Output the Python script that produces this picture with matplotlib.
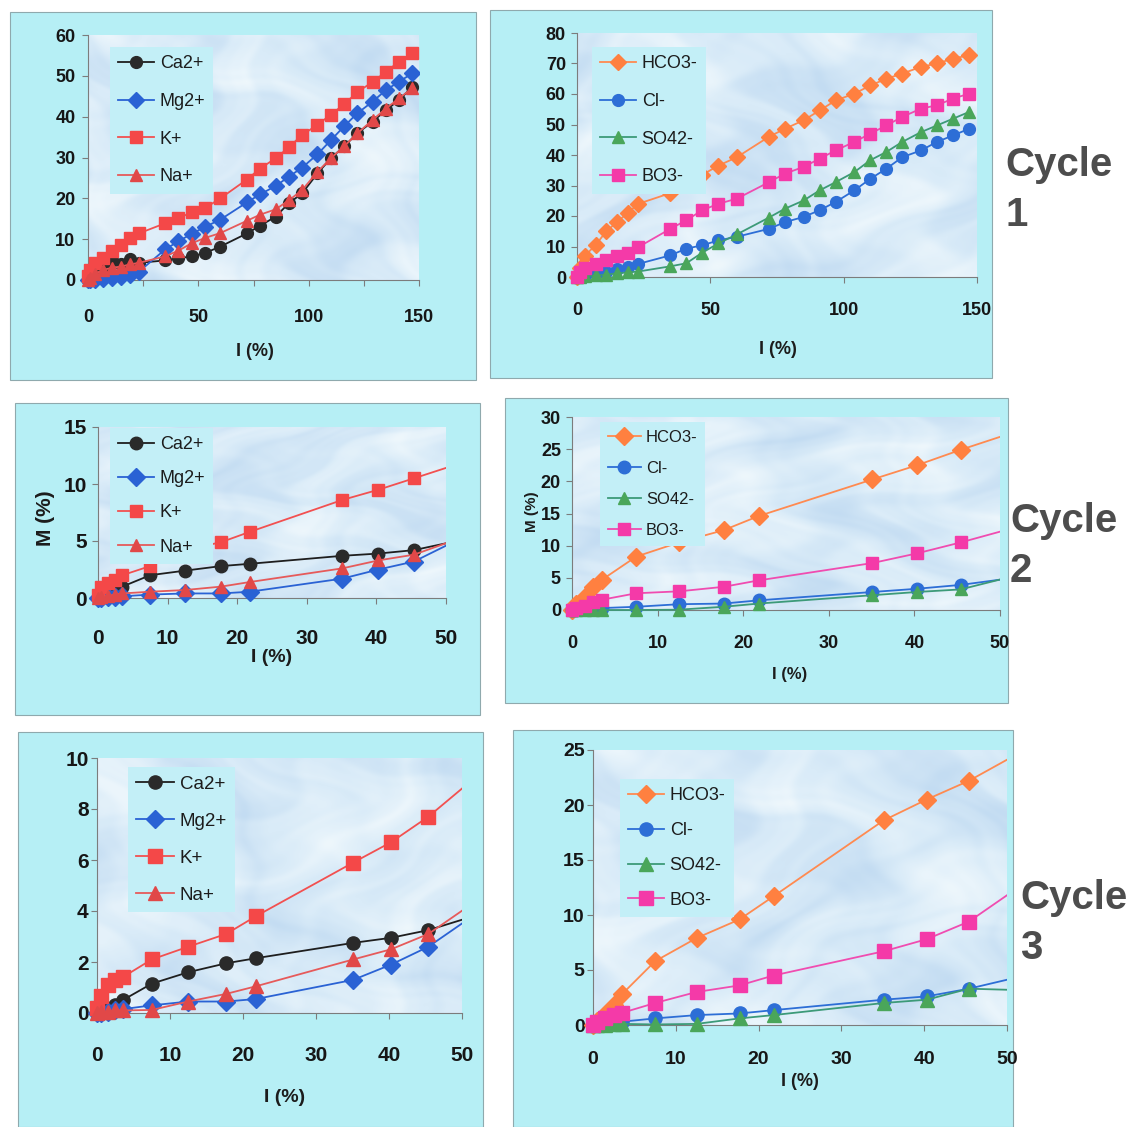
import matplotlib
matplotlib.use('Agg')
import matplotlib.pyplot as plt
import numpy as np
from matplotlib.patches import Rectangle
from matplotlib.colors import LinearSegmentedColormap
from matplotlib.ticker import MultipleLocator

plt.rcParams['font.family'] = ['Liberation Sans', 'DejaVu Sans']

W, H = 1135, 1127

# ---- cycle 1: I (%) sampling and released fraction M (%) ----
x_c1 = [0, 1, 3, 7, 11, 15, 19, 23, 35, 41, 47, 53, 60, 72, 78, 85, 91, 97,
        104, 110, 116, 122, 129, 135, 141, 147]
ca_c1 = [0, 1.0, 2.5, 3.3, 5.0, 3.8, 5.2, 4.2, 4.8, 5.3, 5.8, 6.6, 8.2, 11.4,
         13.3, 15.5, 18.8, 21.2, 26.1, 29.8, 32.7, 35.9, 38.8, 41.6, 44.1, 47.3]
mg_c1 = [0, 0, 0.1, 0.3, 0.5, 0.8, 1.2, 2.0, 7.5, 9.5, 11.3, 13.0, 14.8, 19.0,
         21.0, 23.0, 25.3, 27.5, 30.8, 34.2, 37.6, 40.8, 43.7, 46.5, 48.6, 50.6]
k_c1 = [1.0, 2.5, 4.2, 5.5, 7.2, 8.6, 10.2, 11.4, 13.9, 15.1, 16.6, 17.6, 20.0,
        24.6, 27.3, 29.8, 32.5, 35.5, 38.0, 40.5, 43.0, 46.0, 48.5, 51.0, 53.5, 55.5]
na_c1 = [0, 0.5, 1.5, 2.5, 3.0, 3.3, 3.8, 4.2, 5.8, 7.2, 9.0, 10.3, 11.5, 14.5,
         16.0, 17.3, 19.5, 22.0, 26.5, 29.8, 32.7, 35.9, 39.2, 42.0, 44.5, 47.0]
hco3_c1 = [0, 3.0, 7.0, 10.5, 15.0, 18.0, 21.0, 24.0, 27.5, 30.5, 33.5, 36.5, 39.3,
           46.0, 48.6, 51.4, 54.6, 57.9, 60.1, 62.8, 65.0, 66.7, 68.9, 70.0, 71.6, 72.7]
cl_c1 = [0, 0.3, 0.8, 1.3, 1.8, 2.5, 3.2, 4.3, 7.1, 9.3, 10.4, 12.0, 13.2, 15.8,
         18.0, 19.7, 21.9, 24.6, 28.4, 32.2, 35.5, 39.3, 41.5, 44.3, 46.4, 48.6]
so4_c1 = [0, 0, 0.2, 0.5, 0.8, 1.2, 1.5, 1.8, 3.5, 4.5, 8.0, 11.0, 14.0, 19.5,
          22.4, 25.1, 28.4, 31.1, 34.4, 38.3, 41.0, 44.3, 47.5, 49.7, 51.9, 54.1]
bo3_c1 = [0, 1.5, 3.0, 4.2, 5.5, 6.8, 8.0, 9.8, 15.8, 18.6, 21.9, 24.0, 25.7,
          31.1, 33.9, 36.1, 38.8, 41.5, 44.3, 47.0, 49.7, 52.5, 55.2, 56.3, 58.5, 60.1]

# ---- cycles 2 and 3 share the same sampling ----
x_c23 = [0, 0.5, 1.5, 2.5, 3.5, 7.5, 12.5, 17.7, 21.8, 35.1, 40.3, 45.4, 55]

ca_c2 = [0, 0.2, 0.4, 0.7, 1.0, 2.0, 2.4, 2.8, 3.0, 3.7, 3.9, 4.2, 5.45]
mg_c2 = [0, 0, 0.05, 0.1, 0.15, 0.3, 0.4, 0.4, 0.55, 1.7, 2.5, 3.2, 6.1]
k_c2 = [0.3, 1.0, 1.3, 1.6, 2.0, 2.8, 4.2, 4.9, 5.8, 8.6, 9.5, 10.5, 12.4]
na_c2 = [0, 0.1, 0.2, 0.3, 0.4, 0.55, 0.7, 1.0, 1.4, 2.6, 3.3, 3.8, 5.9]
hco3_c2 = [0, 1.0, 2.0, 3.6, 4.7, 8.3, 10.5, 12.4, 14.6, 20.3, 22.5, 24.9, 29.1]
cl_c2 = [0, 0.05, 0.1, 0.2, 0.3, 0.5, 0.9, 1.0, 1.5, 2.8, 3.3, 3.9, 5.6]
so4_c2 = [0, 0, 0, 0, 0, 0, 0.05, 0.5, 1.0, 2.3, 2.8, 3.2, 6.4]
bo3_c2 = [0, 0.3, 0.6, 1.2, 1.6, 2.6, 2.9, 3.6, 4.6, 7.3, 8.8, 10.5, 14.0]

ca_c3 = [0, 0.05, 0.15, 0.3, 0.5, 1.15, 1.6, 1.95, 2.15, 2.75, 2.95, 3.25, 4.1]
mg_c3 = [0, 0, 0.05, 0.1, 0.15, 0.3, 0.45, 0.45, 0.55, 1.3, 1.9, 2.6, 4.5]
k_c3 = [0.2, 0.65, 1.1, 1.3, 1.4, 2.1, 2.6, 3.1, 3.8, 5.9, 6.7, 7.7, 10.0]
na_c3 = [0, 0.02, 0.05, 0.1, 0.1, 0.12, 0.45, 0.75, 1.05, 2.1, 2.5, 3.1, 5.0]
hco3_c3 = [0, 0.4, 1.0, 1.8, 2.8, 5.8, 7.9, 9.6, 11.7, 18.6, 20.5, 22.2, 26.2]
cl_c3 = [0, 0.05, 0.1, 0.2, 0.3, 0.6, 0.9, 1.05, 1.35, 2.3, 2.6, 3.3, 5.0]
so4_c3 = [0, 0, 0, 0.05, 0.1, 0.05, 0.1, 0.6, 0.9, 2.0, 2.3, 3.3, 3.1]
bo3_c3 = [0, 0.3, 0.6, 0.9, 1.1, 2.0, 3.0, 3.6, 4.5, 6.7, 7.8, 9.4, 14.4]

cation_names = ['Ca2+', 'Mg2+', 'K+', 'Na+']
anion_names = ['HCO3-', 'Cl-', 'SO42-', 'BO3-']

# marker, marker colour, line colour
cation_style = [('o', '#2a2a2a', '#1e1e1e'), ('D', '#2a62d4', '#2a62d4'),
                ('s', '#f44848', '#f25050'), ('^', '#e14848', '#e65a5a')]
anion_style = [('D', '#ff8040', '#ff8a50'), ('o', '#2d6ed6', '#2d6ed6'),
               ('^', '#4aa65a', '#3c9a78'), ('s', '#f43aa8', '#f04cb0')]

PANEL_BG = '#b6eff5'
LEGEND_BG = '#c3eff7'
tex_cmap = LinearSegmentedColormap.from_list('tex', ['#eef7fc', '#d9ebf8', '#c3dcf2'])

fig = plt.figure(figsize=(W / 100, H / 100), dpi=100)
fig.patch.set_facecolor('white')


def px_rect(l, t, r, b):
    return [l / W, 1 - b / H, (r - l) / W, (b - t) / H]


def panel_box(l, t, r, b):
    fig.patches.append(Rectangle((l / W, 1 - b / H), (r - l) / W, (b - t) / H,
                                 transform=fig.transFigure, facecolor=PANEL_BG,
                                 edgecolor='#8fa9ad', linewidth=0.8, zorder=-5))


def texture(ax, xmax, ymax, phase):
    # cloudy plot-area fill: warped products of sine waves
    gx, gy = np.meshgrid(np.linspace(0, 1, 320), np.linspace(0, 1, 240))
    u = gx + 0.12 * np.sin(7 * gy + phase) + 0.04 * np.sin(23 * gy + 2 * phase)
    v = gy + 0.12 * np.sin(6 * gx + 2 * phase) + 0.04 * np.sin(19 * gx + phase)
    f = (np.sin(9 * u + phase) * np.sin(8 * v + 1.3)
         + 0.55 * np.sin(19 * u + 3) * np.sin(17 * v + phase)
         + 0.3 * np.sin(37 * u + 1) * np.sin(33 * v + 2)
         + 0.15 * np.sin(71 * u) * np.sin(63 * v + phase))
    ax.imshow(f, extent=(0, xmax, 0, ymax), origin='lower', aspect='auto',
              cmap=tex_cmap, interpolation='bilinear', zorder=0)


def draw_panel(rect, x, series, names, styles, xmax, ymax, xstep, ystep,
               tick_size, xpad, ypad, ms, leg_xy, leg_size, leg_spacing,
               xlabel_xy, xlabel_size, phase, minor_x=None, ylabel=None):
    ax = fig.add_axes(px_rect(*rect))
    ax.patch.set_visible(False)
    texture(ax, xmax, ymax, phase)
    clip = Rectangle((-20, -20), xmax + 20, ymax + 40, transform=ax.transData)
    for ys, name, (mk, mc, lc) in zip(series, names, styles):
        ln, = ax.plot(x, ys, color=lc, lw=1.3, marker=mk, ms=ms,
                      markerfacecolor=mc, markeredgecolor=mc, label=name, zorder=3)
        ln.set_clip_path(clip)
    ax.set_xlim(0, xmax)
    ax.set_ylim(0, ymax)
    ax.xaxis.set_major_locator(MultipleLocator(xstep))
    ax.yaxis.set_major_locator(MultipleLocator(ystep))
    if minor_x:
        ax.xaxis.set_minor_locator(MultipleLocator(minor_x))
    for s in ['top', 'right']:
        ax.spines[s].set_visible(False)
    for s in ['left', 'bottom']:
        ax.spines[s].set_color('#7c7c7c')
        ax.spines[s].set_linewidth(0.8)
    ax.tick_params(which='both', direction='out', length=4, width=0.8,
                   color='#7c7c7c', labelsize=tick_size, labelcolor='#161616')
    ax.tick_params(axis='x', which='major', pad=xpad)
    ax.tick_params(axis='y', pad=ypad)
    plt.setp(ax.get_xticklabels() + ax.get_yticklabels(), fontweight='bold')
    ax.set_xlabel('I (%)', fontsize=xlabel_size, fontweight='bold', color='#1c1c1c')
    ax.xaxis.set_label_coords((xlabel_xy[0] - rect[0]) / (rect[2] - rect[0]),
                              (rect[3] - xlabel_xy[1]) / (rect[3] - rect[1]))
    ax.xaxis.label.set_va('center')
    if ylabel:
        txt, lx, ly, lsize = ylabel
        ax.set_ylabel(txt, fontsize=lsize, fontweight='bold', color='#1c1c1c')
        ax.yaxis.set_label_coords((lx - rect[0]) / (rect[2] - rect[0]),
                                  (rect[3] - ly) / (rect[3] - rect[1]))
        ax.yaxis.label.set_va('center')
    leg = ax.legend(loc='upper left', bbox_to_anchor=(leg_xy[0] / W, 1 - leg_xy[1] / H),
                    bbox_transform=fig.transFigure, fontsize=leg_size,
                    frameon=True, facecolor=LEGEND_BG, edgecolor='none',
                    framealpha=1, fancybox=False, handlelength=2.0,
                    handletextpad=0.3, labelspacing=leg_spacing, borderpad=0.45,
                    borderaxespad=0)
    leg.set_zorder(5)
    for t in leg.get_texts():
        t.set_color('#1c1c1c')
    return ax


# Cycle 1
panel_box(10, 12, 476, 380)
draw_panel((88, 35, 419, 280), x_c1, [ca_c1, mg_c1, k_c1, na_c1], cation_names,
           cation_style, 150, 60, 50, 10, 13, 17, 5, 8.5, (110, 47), 13, 1.15,
           (255, 352), 13, 0.3, minor_x=25)
panel_box(490, 10, 992, 378)
draw_panel((577, 33, 977, 277), x_c1, [hco3_c1, cl_c1, so4_c1, bo3_c1], anion_names,
           anion_style, 150, 80, 50, 10, 13, 14, 4, 8.5, (592, 47), 13, 1.15,
           (778, 350), 13, 1.7)

# Cycle 2
panel_box(15, 403, 480, 715)
draw_panel((98, 427, 446, 598), x_c23, [ca_c2, mg_c2, k_c2, na_c2], cation_names,
           cation_style, 50, 15, 10, 5, 15, 18, 4, 9, (110, 428), 13, 0.95,
           (272, 658), 14, 2.9, ylabel=('M (%)', 46, 518, 15))
panel_box(505, 398, 1008, 703)
draw_panel((572, 417, 1000, 610), x_c23, [hco3_c2, cl_c2, so4_c2, bo3_c2], anion_names,
           anion_style, 50, 30, 10, 5, 13, 14, 4, 9, (600, 422), 12, 0.97,
           (790, 675), 12, 4.1, ylabel=('M (%)', 532, 512, 11))

# Cycle 3
panel_box(18, 732, 483, 1127)
draw_panel((97, 758, 462, 1013), x_c23, [ca_c3, mg_c3, k_c3, na_c3], cation_names,
           cation_style, 50, 10, 10, 2, 15, 20, 2, 9.5, (128, 767), 13.5, 1.06,
           (285, 1098), 14, 5.3)
panel_box(513, 730, 1013, 1127)
draw_panel((593, 750, 1007, 1025), x_c23, [hco3_c3, cl_c3, so4_c3, bo3_c3], anion_names,
           anion_style, 50, 25, 10, 5, 14, 15, 2, 9.5, (620, 779), 13, 0.99,
           (800, 1082), 13, 6.6)

# cycle captions on the right
for label, px, py in [('Cycle\n1', 1005, 190), ('Cycle\n2', 1010, 546), ('Cycle\n3', 1020, 923)]:
    fig.text(px / W, 1 - py / H, label, fontsize=29, fontweight='bold',
             color='#4d4d4d', ha='left', va='center', linespacing=1.4)

fig.savefig('out.png', dpi=100)
